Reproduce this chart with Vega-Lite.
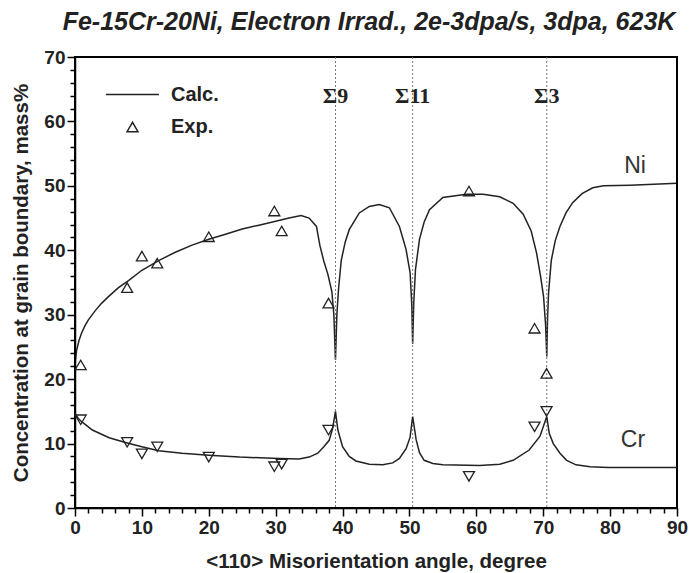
{
  "$schema": "https://vega.github.io/schema/vega-lite/v6.json",
  "width": 602,
  "height": 451,
  "autosize": "none",
  "padding": {"left": 75, "top": 57, "right": 14, "bottom": 65},
  "title": {"text": "Fe-15Cr-20Ni, Electron Irrad., 2e-3dpa/s, 3dpa, 623K", "font": "Liberation Sans", "fontSize": 25, "fontWeight": "bold", "fontStyle": "italic", "color": "#222", "anchor": "middle", "offset": 13, "dx": -7},
  "datasets": {
    "profiles": [
      {"element": "Ni", "kind": "Calc.", "misorientation": 0, "conc": 22.5},
      {"element": "Ni", "kind": "Calc.", "misorientation": 0.25, "conc": 24.5},
      {"element": "Ni", "kind": "Calc.", "misorientation": 0.6, "conc": 26},
      {"element": "Ni", "kind": "Calc.", "misorientation": 1, "conc": 27.2},
      {"element": "Ni", "kind": "Calc.", "misorientation": 1.5, "conc": 28.3},
      {"element": "Ni", "kind": "Calc.", "misorientation": 2, "conc": 29.2},
      {"element": "Ni", "kind": "Calc.", "misorientation": 3, "conc": 30.6},
      {"element": "Ni", "kind": "Calc.", "misorientation": 4, "conc": 31.8},
      {"element": "Ni", "kind": "Calc.", "misorientation": 5, "conc": 32.8},
      {"element": "Ni", "kind": "Calc.", "misorientation": 6.5, "conc": 34.2},
      {"element": "Ni", "kind": "Calc.", "misorientation": 8, "conc": 35.3},
      {"element": "Ni", "kind": "Calc.", "misorientation": 10, "conc": 36.9},
      {"element": "Ni", "kind": "Calc.", "misorientation": 12.5, "conc": 38.4},
      {"element": "Ni", "kind": "Calc.", "misorientation": 15, "conc": 39.7},
      {"element": "Ni", "kind": "Calc.", "misorientation": 17.5, "conc": 40.8},
      {"element": "Ni", "kind": "Calc.", "misorientation": 20, "conc": 41.7},
      {"element": "Ni", "kind": "Calc.", "misorientation": 22.5, "conc": 42.5},
      {"element": "Ni", "kind": "Calc.", "misorientation": 25, "conc": 43.3},
      {"element": "Ni", "kind": "Calc.", "misorientation": 27.5, "conc": 43.9},
      {"element": "Ni", "kind": "Calc.", "misorientation": 30, "conc": 44.5},
      {"element": "Ni", "kind": "Calc.", "misorientation": 32, "conc": 45},
      {"element": "Ni", "kind": "Calc.", "misorientation": 33.8, "conc": 45.4},
      {"element": "Ni", "kind": "Calc.", "misorientation": 35, "conc": 45},
      {"element": "Ni", "kind": "Calc.", "misorientation": 36.1, "conc": 43.7},
      {"element": "Ni", "kind": "Calc.", "misorientation": 36.6, "conc": 40.8},
      {"element": "Ni", "kind": "Calc.", "misorientation": 37.2, "conc": 38.3},
      {"element": "Ni", "kind": "Calc.", "misorientation": 37.8, "conc": 36.3},
      {"element": "Ni", "kind": "Calc.", "misorientation": 38.4, "conc": 33.6},
      {"element": "Ni", "kind": "Calc.", "misorientation": 38.7, "conc": 30},
      {"element": "Ni", "kind": "Calc.", "misorientation": 38.94, "conc": 23},
      {"element": "Ni", "kind": "Calc.", "misorientation": 39.15, "conc": 30},
      {"element": "Ni", "kind": "Calc.", "misorientation": 39.4, "conc": 34},
      {"element": "Ni", "kind": "Calc.", "misorientation": 39.8, "conc": 38.4},
      {"element": "Ni", "kind": "Calc.", "misorientation": 40.4, "conc": 41.3},
      {"element": "Ni", "kind": "Calc.", "misorientation": 41, "conc": 43.2},
      {"element": "Ni", "kind": "Calc.", "misorientation": 42.5, "conc": 45.8},
      {"element": "Ni", "kind": "Calc.", "misorientation": 44, "conc": 46.8},
      {"element": "Ni", "kind": "Calc.", "misorientation": 45.5, "conc": 47.1},
      {"element": "Ni", "kind": "Calc.", "misorientation": 47, "conc": 46.6},
      {"element": "Ni", "kind": "Calc.", "misorientation": 48.5, "conc": 43.7},
      {"element": "Ni", "kind": "Calc.", "misorientation": 49.5, "conc": 40.1},
      {"element": "Ni", "kind": "Calc.", "misorientation": 50.1, "conc": 36.5},
      {"element": "Ni", "kind": "Calc.", "misorientation": 50.35, "conc": 31.5},
      {"element": "Ni", "kind": "Calc.", "misorientation": 50.48, "conc": 25.5},
      {"element": "Ni", "kind": "Calc.", "misorientation": 50.65, "conc": 32},
      {"element": "Ni", "kind": "Calc.", "misorientation": 50.9, "conc": 37},
      {"element": "Ni", "kind": "Calc.", "misorientation": 51.5, "conc": 41.7},
      {"element": "Ni", "kind": "Calc.", "misorientation": 52.2, "conc": 44.4},
      {"element": "Ni", "kind": "Calc.", "misorientation": 53, "conc": 46.3},
      {"element": "Ni", "kind": "Calc.", "misorientation": 55, "conc": 48.2},
      {"element": "Ni", "kind": "Calc.", "misorientation": 58.5, "conc": 48.7},
      {"element": "Ni", "kind": "Calc.", "misorientation": 61, "conc": 48.7},
      {"element": "Ni", "kind": "Calc.", "misorientation": 63.5, "conc": 48.3},
      {"element": "Ni", "kind": "Calc.", "misorientation": 65.5, "conc": 47.3},
      {"element": "Ni", "kind": "Calc.", "misorientation": 67, "conc": 45.6},
      {"element": "Ni", "kind": "Calc.", "misorientation": 68.2, "conc": 43},
      {"element": "Ni", "kind": "Calc.", "misorientation": 69, "conc": 39.6},
      {"element": "Ni", "kind": "Calc.", "misorientation": 69.6, "conc": 36},
      {"element": "Ni", "kind": "Calc.", "misorientation": 70.05, "conc": 32.8},
      {"element": "Ni", "kind": "Calc.", "misorientation": 70.35, "conc": 28.5},
      {"element": "Ni", "kind": "Calc.", "misorientation": 70.53, "conc": 23.5},
      {"element": "Ni", "kind": "Calc.", "misorientation": 70.65, "conc": 29.5},
      {"element": "Ni", "kind": "Calc.", "misorientation": 70.8, "conc": 33.4},
      {"element": "Ni", "kind": "Calc.", "misorientation": 71.2, "conc": 38.4},
      {"element": "Ni", "kind": "Calc.", "misorientation": 71.8, "conc": 41.5},
      {"element": "Ni", "kind": "Calc.", "misorientation": 72.5, "conc": 43.7},
      {"element": "Ni", "kind": "Calc.", "misorientation": 73.4, "conc": 45.8},
      {"element": "Ni", "kind": "Calc.", "misorientation": 74.4, "conc": 47.4},
      {"element": "Ni", "kind": "Calc.", "misorientation": 75.8, "conc": 48.8},
      {"element": "Ni", "kind": "Calc.", "misorientation": 77.4, "conc": 49.7},
      {"element": "Ni", "kind": "Calc.", "misorientation": 79, "conc": 50},
      {"element": "Ni", "kind": "Calc.", "misorientation": 83, "conc": 50.1},
      {"element": "Ni", "kind": "Calc.", "misorientation": 90, "conc": 50.4},
      {"element": "Cr", "kind": "Calc.", "misorientation": 0, "conc": 14.7},
      {"element": "Cr", "kind": "Calc.", "misorientation": 0.5, "conc": 13.9},
      {"element": "Cr", "kind": "Calc.", "misorientation": 1, "conc": 13.4},
      {"element": "Cr", "kind": "Calc.", "misorientation": 2.6, "conc": 12.1},
      {"element": "Cr", "kind": "Calc.", "misorientation": 5.1, "conc": 10.9},
      {"element": "Cr", "kind": "Calc.", "misorientation": 7.8, "conc": 10.1},
      {"element": "Cr", "kind": "Calc.", "misorientation": 10, "conc": 9.5},
      {"element": "Cr", "kind": "Calc.", "misorientation": 12.5, "conc": 8.9},
      {"element": "Cr", "kind": "Calc.", "misorientation": 16, "conc": 8.5},
      {"element": "Cr", "kind": "Calc.", "misorientation": 20, "conc": 8.2},
      {"element": "Cr", "kind": "Calc.", "misorientation": 24.6, "conc": 7.9},
      {"element": "Cr", "kind": "Calc.", "misorientation": 30.5, "conc": 7.7},
      {"element": "Cr", "kind": "Calc.", "misorientation": 33.5, "conc": 7.6},
      {"element": "Cr", "kind": "Calc.", "misorientation": 35, "conc": 7.9},
      {"element": "Cr", "kind": "Calc.", "misorientation": 36.3, "conc": 8.5},
      {"element": "Cr", "kind": "Calc.", "misorientation": 37.2, "conc": 9.5},
      {"element": "Cr", "kind": "Calc.", "misorientation": 38, "conc": 10.5},
      {"element": "Cr", "kind": "Calc.", "misorientation": 38.5, "conc": 12.3},
      {"element": "Cr", "kind": "Calc.", "misorientation": 38.94, "conc": 15},
      {"element": "Cr", "kind": "Calc.", "misorientation": 39.3, "conc": 12.1},
      {"element": "Cr", "kind": "Calc.", "misorientation": 40, "conc": 9.5},
      {"element": "Cr", "kind": "Calc.", "misorientation": 41, "conc": 8},
      {"element": "Cr", "kind": "Calc.", "misorientation": 42, "conc": 7.3},
      {"element": "Cr", "kind": "Calc.", "misorientation": 44, "conc": 6.8},
      {"element": "Cr", "kind": "Calc.", "misorientation": 46, "conc": 6.7},
      {"element": "Cr", "kind": "Calc.", "misorientation": 47.5, "conc": 7},
      {"element": "Cr", "kind": "Calc.", "misorientation": 48.5, "conc": 7.7},
      {"element": "Cr", "kind": "Calc.", "misorientation": 49.5, "conc": 9.2},
      {"element": "Cr", "kind": "Calc.", "misorientation": 50.1, "conc": 11},
      {"element": "Cr", "kind": "Calc.", "misorientation": 50.48, "conc": 14.2},
      {"element": "Cr", "kind": "Calc.", "misorientation": 51, "conc": 10.6},
      {"element": "Cr", "kind": "Calc.", "misorientation": 51.5, "conc": 8.6},
      {"element": "Cr", "kind": "Calc.", "misorientation": 52.2, "conc": 7.4},
      {"element": "Cr", "kind": "Calc.", "misorientation": 53.5, "conc": 6.9},
      {"element": "Cr", "kind": "Calc.", "misorientation": 55, "conc": 6.7},
      {"element": "Cr", "kind": "Calc.", "misorientation": 60.5, "conc": 6.6},
      {"element": "Cr", "kind": "Calc.", "misorientation": 63.5, "conc": 6.8},
      {"element": "Cr", "kind": "Calc.", "misorientation": 65.5, "conc": 7.4},
      {"element": "Cr", "kind": "Calc.", "misorientation": 67.9, "conc": 9},
      {"element": "Cr", "kind": "Calc.", "misorientation": 69.5, "conc": 11.1},
      {"element": "Cr", "kind": "Calc.", "misorientation": 70.2, "conc": 13.2},
      {"element": "Cr", "kind": "Calc.", "misorientation": 70.53, "conc": 14.2},
      {"element": "Cr", "kind": "Calc.", "misorientation": 70.9, "conc": 11.6},
      {"element": "Cr", "kind": "Calc.", "misorientation": 71.5, "conc": 10},
      {"element": "Cr", "kind": "Calc.", "misorientation": 72.5, "conc": 8.5},
      {"element": "Cr", "kind": "Calc.", "misorientation": 73.5, "conc": 7.4},
      {"element": "Cr", "kind": "Calc.", "misorientation": 74.9, "conc": 6.7},
      {"element": "Cr", "kind": "Calc.", "misorientation": 77, "conc": 6.4},
      {"element": "Cr", "kind": "Calc.", "misorientation": 79.7, "conc": 6.3},
      {"element": "Cr", "kind": "Calc.", "misorientation": 90, "conc": 6.3},
      {"element": "Ni", "kind": "Exp.", "misorientation": 0.85, "conc": 22.2},
      {"element": "Ni", "kind": "Exp.", "misorientation": 7.8, "conc": 34.2},
      {"element": "Ni", "kind": "Exp.", "misorientation": 10, "conc": 39.1},
      {"element": "Ni", "kind": "Exp.", "misorientation": 12.3, "conc": 38},
      {"element": "Ni", "kind": "Exp.", "misorientation": 20, "conc": 42.1},
      {"element": "Ni", "kind": "Exp.", "misorientation": 29.8, "conc": 46.1},
      {"element": "Ni", "kind": "Exp.", "misorientation": 30.9, "conc": 43},
      {"element": "Ni", "kind": "Exp.", "misorientation": 37.9, "conc": 31.8},
      {"element": "Ni", "kind": "Exp.", "misorientation": 58.9, "conc": 49.2},
      {"element": "Ni", "kind": "Exp.", "misorientation": 68.7, "conc": 27.9},
      {"element": "Ni", "kind": "Exp.", "misorientation": 70.5, "conc": 20.9},
      {"element": "Cr", "kind": "Exp.", "misorientation": 0.85, "conc": 13.7},
      {"element": "Cr", "kind": "Exp.", "misorientation": 7.8, "conc": 10.2},
      {"element": "Cr", "kind": "Exp.", "misorientation": 10, "conc": 8.4},
      {"element": "Cr", "kind": "Exp.", "misorientation": 12.3, "conc": 9.5},
      {"element": "Cr", "kind": "Exp.", "misorientation": 20, "conc": 7.9},
      {"element": "Cr", "kind": "Exp.", "misorientation": 29.8, "conc": 6.4},
      {"element": "Cr", "kind": "Exp.", "misorientation": 30.9, "conc": 6.8},
      {"element": "Cr", "kind": "Exp.", "misorientation": 37.9, "conc": 12.1},
      {"element": "Cr", "kind": "Exp.", "misorientation": 58.9, "conc": 4.9},
      {"element": "Cr", "kind": "Exp.", "misorientation": 68.7, "conc": 12.6},
      {"element": "Cr", "kind": "Exp.", "misorientation": 70.5, "conc": 15}
    ],
    "boundaries": [
      {"boundary": "Σ9", "misorientation": 38.94},
      {"boundary": "Σ11", "misorientation": 50.48},
      {"boundary": "Σ3", "misorientation": 70.53}
    ]
  },
  "data": {"name": "profiles"},
  "config": {
    "view": {"stroke": "black", "strokeWidth": 1.5},
    "axis": {
      "labelFlush": false, "labelOverlap": false, "grid": false,
      "labelFont": "Liberation Sans", "labelFontSize": 19, "labelFontWeight": "bold", "labelColor": "#222",
      "titleFont": "Liberation Sans", "titleFontSize": 20.5, "titleFontWeight": "bold", "titleColor": "#222",
      "domain": true, "domainColor": "black", "domainWidth": 1.5,
      "ticks": true, "tickColor": "black", "tickWidth": 1.5
    },
    "legend": {
      "orient": "none", "legendX": 30, "legendY": 10, "padding": 0,
      "labelFont": "Liberation Sans", "labelFontSize": 20, "labelFontWeight": "bold", "labelColor": "#222",
      "labelOffset": 11, "rowPadding": 12,
      "symbolStrokeColor": "#222", "symbolStrokeWidth": 1.5, "symbolFillColor": "transparent"
    }
  },
  "layer": [
    {
      "transform": [{"filter": "datum.element === 'Ni' && datum.kind === 'Calc.'"}],
      "mark": {"type": "line", "color": "#222", "strokeWidth": 1.5},
      "encoding": {
        "x": {"field": "misorientation", "type": "quantitative", "scale": {"domain": [0, 90], "nice": false},
              "axis": {"orient": "bottom", "tickCount": 100, "format": "d", "labelOverlap": false, "labelFlush": false,
                       "values": [0, 2, 4, 6, 8, 10, 12, 14, 16, 18, 20, 22, 24, 26, 28, 30, 32, 34, 36, 38, 40, 42, 44, 46, 48, 50, 52, 54, 56, 58, 60, 62, 64, 66, 68, 70, 72, 74, 76, 78, 80, 82, 84, 86, 88, 90],
                       "labelExpr": "datum.value % 10 === 0 ? datum.label : ''",
                       "tickSize": {"condition": {"test": "datum.value % 10 === 0", "value": 8}, "value": 5},
                       "labelPadding": 2, "title": "<110> Misorientation angle, degree", "titlePadding": 14}},
        "y": {"field": "conc", "type": "quantitative", "scale": {"domain": [0, 70], "nice": false},
              "axis": {"orient": "left", "tickCount": 100, "format": "d", "labelOverlap": false, "labelFlush": false,
                       "values": [0, 2, 4, 6, 8, 10, 12, 14, 16, 18, 20, 22, 24, 26, 28, 30, 32, 34, 36, 38, 40, 42, 44, 46, 48, 50, 52, 54, 56, 58, 60, 62, 64, 66, 68, 70],
                       "labelExpr": "datum.value % 10 === 0 ? datum.label : ''",
                       "tickSize": {"condition": {"test": "datum.value % 10 === 0", "value": 8}, "value": 5},
                       "labelPadding": 2, "title": "Concentration at grain boundary, mass%", "titlePadding": 12}}
      }
    },
    {
      "mark": {"type": "rect", "filled": false, "color": "black", "strokeWidth": 1.5},
      "encoding": {
        "x": {"datum": 0, "type": "quantitative"},
        "x2": {"datum": 90},
        "y": {"datum": 0, "type": "quantitative"},
        "y2": {"datum": 70}
      }
    },
    {
      "data": {"name": "boundaries"},
      "mark": {"type": "rule", "color": "#777", "strokeWidth": 1, "strokeDash": [2, 2]},
      "encoding": {
        "x": {"field": "misorientation", "type": "quantitative"}
      }
    },
    {
      "transform": [{"filter": "datum.element === 'Cr' && datum.kind === 'Calc.'"}],
      "mark": {"type": "line", "color": "#222", "strokeWidth": 1.5},
      "encoding": {
        "x": {"field": "misorientation", "type": "quantitative"},
        "y": {"field": "conc", "type": "quantitative"}
      }
    },
    {
      "transform": [{"filter": "datum.element === 'Ni' && datum.kind === 'Exp.'"}],
      "mark": {"type": "point", "filled": false, "color": "#222", "strokeWidth": 1.3, "opacity": 1},
      "encoding": {
        "x": {"field": "misorientation", "type": "quantitative"},
        "y": {"field": "conc", "type": "quantitative"},
        "shape": {"field": "kind", "type": "nominal", "scale": {"domain": ["Calc.", "Exp."], "range": ["stroke", "triangle-up"]}, "legend": {"title": null}},
        "size": {"field": "kind", "type": "nominal", "scale": {"domain": ["Calc.", "Exp."], "range": [2809, 120]}, "legend": {"title": null}}
      }
    },
    {
      "transform": [{"filter": "datum.element === 'Cr' && datum.kind === 'Exp.'"}],
      "mark": {"type": "point", "filled": false, "color": "#222", "strokeWidth": 1.3, "opacity": 1, "angle": 180},
      "encoding": {
        "x": {"field": "misorientation", "type": "quantitative"},
        "y": {"field": "conc", "type": "quantitative"},
        "shape": {"field": "kind", "type": "nominal", "legend": {"title": null}},
        "size": {"field": "kind", "type": "nominal", "legend": {"title": null}}
      }
    },
    {
      "transform": [{"filter": "datum.element === 'Ni' && datum.kind === 'Calc.' && datum.misorientation === 90"}],
      "mark": {"type": "text", "font": "Liberation Sans", "fontSize": 23, "color": "#333", "align": "center", "baseline": "middle", "dx": -42, "dy": -17},
      "encoding": {
        "x": {"field": "misorientation", "type": "quantitative"},
        "y": {"field": "conc", "type": "quantitative"},
        "text": {"field": "element"}
      }
    },
    {
      "transform": [{"filter": "datum.element === 'Cr' && datum.kind === 'Calc.' && datum.misorientation === 90"}],
      "mark": {"type": "text", "font": "Liberation Sans", "fontSize": 23, "color": "#333", "align": "center", "baseline": "middle", "dx": -44, "dy": -27},
      "encoding": {
        "x": {"field": "misorientation", "type": "quantitative"},
        "y": {"field": "conc", "type": "quantitative"},
        "text": {"field": "element"}
      }
    },
    {
      "data": {"name": "boundaries"},
      "mark": {"type": "text", "font": "Liberation Serif", "fontSize": 22, "fontWeight": "bold", "color": "#222", "align": "center", "baseline": "middle"},
      "encoding": {
        "x": {"field": "misorientation", "type": "quantitative"},
        "y": {"datum": 64, "type": "quantitative"},
        "text": {"field": "boundary"}
      }
    }
  ]
}
